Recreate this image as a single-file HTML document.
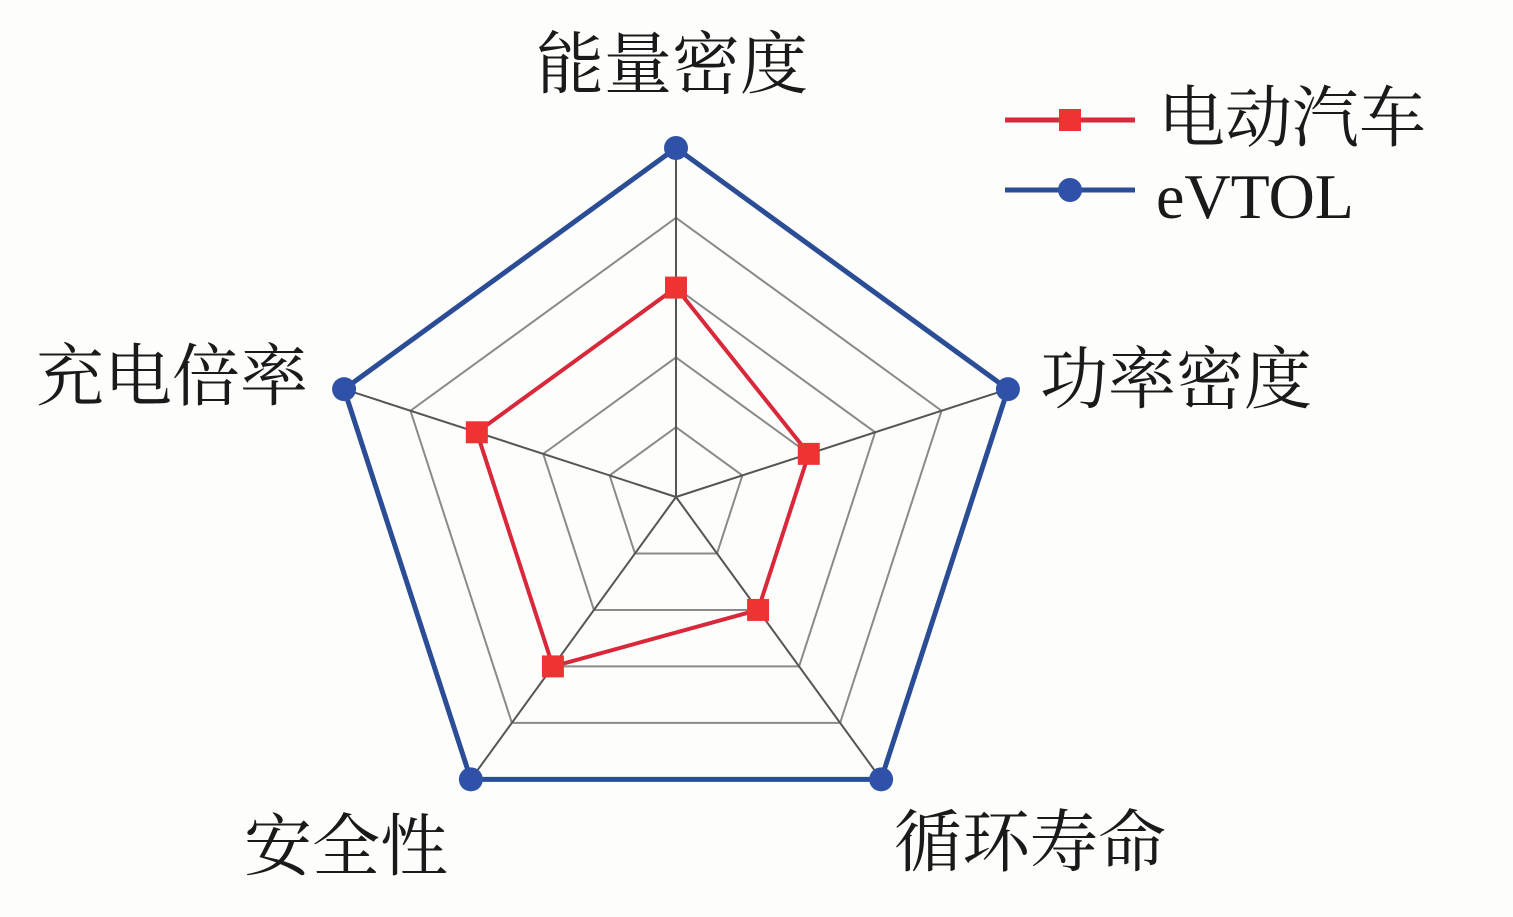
<!DOCTYPE html><html><head><meta charset="utf-8"><style>body{margin:0;background:#fff}svg{display:block}text{font-family:"Liberation Serif","Noto Serif CJK SC",serif;fill:#1a1a1a}</style></head><body>
<svg width="1513" height="917" xmlns="http://www.w3.org/2000/svg">
<rect width="1513" height="917" fill="#fdfdfb"/>
<g id="g"></g>
<text x="672" y="88" font-size="68" text-anchor="middle">能量密度</text>
<text x="1040" y="403" font-size="68">功率密度</text>
<text x="36" y="400" font-size="68">充电倍率</text>
<text x="244" y="870" font-size="68">安全性</text>
<text x="894" y="866" font-size="68">循环寿命</text>
<line x1="1005" y1="120" x2="1135" y2="120" stroke="#d8283a" stroke-width="5"/>
<rect x="1059" y="109" width="22" height="22" fill="#e33"/>
<text x="1158" y="141" font-size="67">电动汽车</text>
<line x1="1005" y1="190" x2="1135" y2="190" stroke="#2a4d95" stroke-width="5"/>
<circle cx="1070" cy="190" r="12" fill="#2f52a8"/>
<text x="1156" y="218" font-size="64">eVTOL</text>
</svg>
<script>
const cx=676,cy=497,R=349,g=document.getElementById('g');let h='';
const pt=(i,r)=>{const a=-Math.PI/2+i*2*Math.PI/5;return [cx+r*R*Math.cos(a),cy+r*R*Math.sin(a)]};
for(let k=1;k<=4;k++){h+=`<polygon points="${[0,1,2,3,4].map(i=>pt(i,k/5).join(',')).join(' ')}" fill="none" stroke="#8a8a8a" stroke-width="2"/>`}
for(let i=0;i<5;i++){const p=pt(i,1);h+=`<line x1="${cx}" y1="${cy}" x2="${p[0]}" y2="${p[1]}" stroke="#555" stroke-width="2"/>`}
h+=`<polygon points="${[0,1,2,3,4].map(i=>pt(i,1).join(',')).join(' ')}" fill="none" stroke="#2a4d95" stroke-width="5"/>`;
for(let i=0;i<5;i++){const p=pt(i,1);h+=`<circle cx="${p[0]}" cy="${p[1]}" r="12" fill="#2f52a8"/>`}
const rv=[0.6,0.4,0.4,0.6,0.6];
h+=`<polygon points="${rv.map((r,i)=>pt(i,r).join(',')).join(' ')}" fill="none" stroke="#d8283a" stroke-width="4"/>`;
rv.forEach((r,i)=>{const p=pt(i,r);h+=`<rect x="${p[0]-11}" y="${p[1]-11}" width="22" height="22" fill="#e33"/>`});
g.innerHTML=h;
</script></body></html>
